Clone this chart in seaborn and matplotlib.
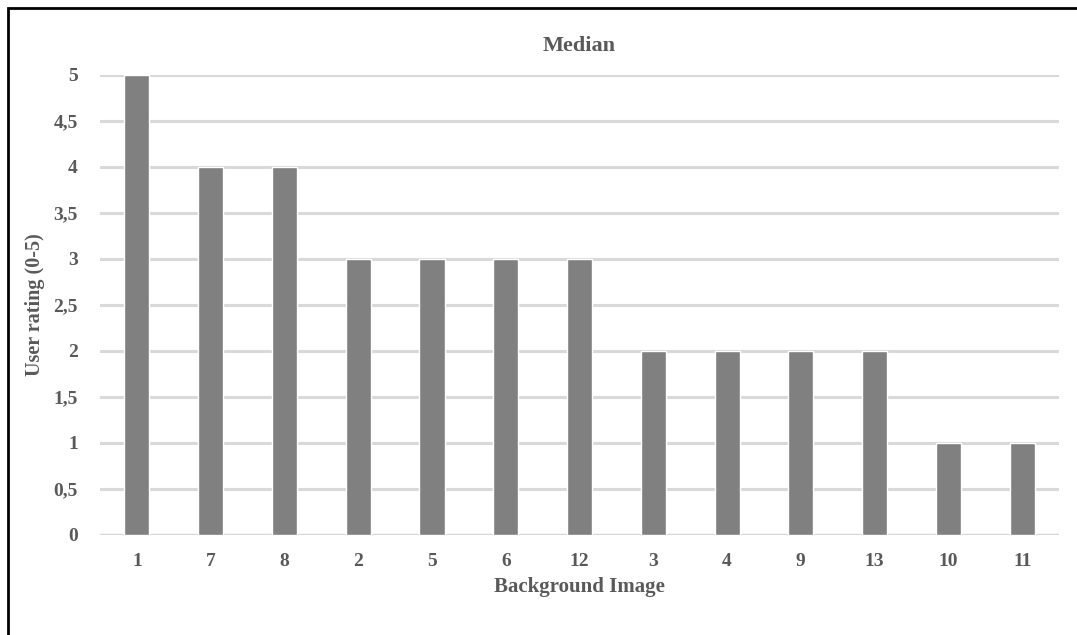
import matplotlib
matplotlib.use("Agg")
import matplotlib.pyplot as plt
import seaborn as sns
import pandas as pd
from matplotlib.patches import Rectangle

# Data
images = ["1", "7", "8", "2", "5", "6", "12", "3", "4", "9", "13", "10", "11"]
medians = [5, 4, 4, 3, 3, 3, 3, 2, 2, 2, 2, 1, 1]
yticks = [0, 0.5, 1, 1.5, 2, 2.5, 3, 3.5, 4, 4.5, 5]
ytick_labels = ["0", "0,5", "1", "1,5", "2", "2,5", "3", "3,5", "4", "4,5", "5"]

df = pd.DataFrame({"image": images, "median": medians})

sns.set_style("white")
plt.rcParams['font.family'] = ['Liberation Serif', 'DejaVu Serif']
text_col = "#595959"

fig = plt.figure(figsize=(10.77, 6.35), dpi=100)
ax = fig.add_axes([0.0929, 0.1575, 0.8904, 0.7244])

sns.barplot(data=df, x="image", y="median", order=images, color="#808080",
            saturation=1, width=0.34, ax=ax, zorder=3)

ax.set_ylim(0, 5)
ax.set_yticks(yticks)
ax.set_yticklabels(ytick_labels)
ax.set_xlim(-0.5, len(images) - 0.5)
ax.yaxis.grid(True, color="#d9d9d9", linewidth=2.2, zorder=0)
ax.set_axisbelow(True)
for s in ax.spines.values():
    s.set_visible(False)
ax.axhline(0, color="#d9d9d9", linewidth=2.5, zorder=1)
ax.tick_params(axis="both", length=0, labelsize=14, colors=text_col)
ax.tick_params(axis="x", pad=13)
ax.tick_params(axis="y", pad=16)
for lbl in ax.get_xticklabels() + ax.get_yticklabels():
    lbl.set_fontweight("bold")

ax.set_title("Median", fontsize=16, color=text_col, fontweight="bold", pad=17)
ax.set_xlabel("Background Image", fontsize=15, color=text_col, fontweight="bold", labelpad=5)
ax.set_ylabel("User rating (0-5)", fontsize=14.5, color=text_col, fontweight="bold", labelpad=6)

# outer border (right side runs off the image)
fig.patches.append(Rectangle((8 / 1077, -0.02), 1.0, 1 - 8 / 635 + 0.02,
                             transform=fig.transFigure, fill=False,
                             edgecolor="black", linewidth=2))

fig.savefig("out.png", dpi=100)
